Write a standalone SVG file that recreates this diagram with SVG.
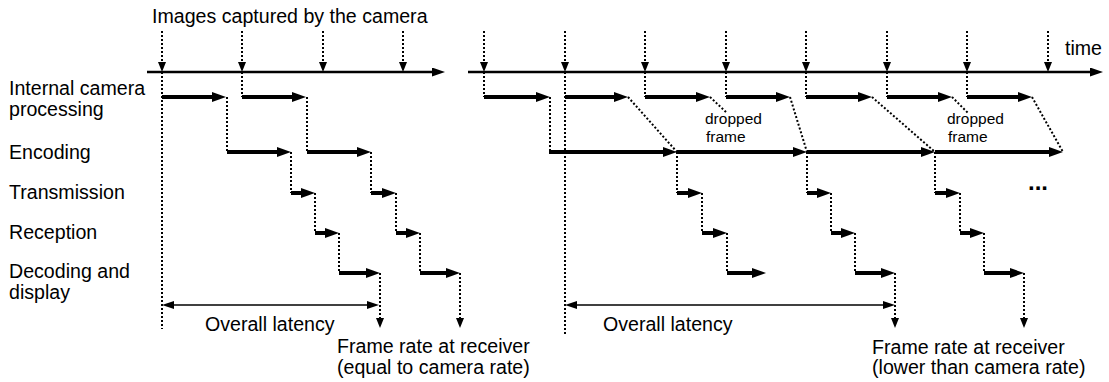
<svg xmlns="http://www.w3.org/2000/svg" width="1109" height="382" viewBox="0 0 1109 382">
<style>
  text { font-family: "Liberation Sans", Arial, sans-serif; fill: #000; }
  .lbl { font-size: 19.6px; }
  .sm { font-size: 15.5px; }
  .dots { font-size: 24px; font-weight: bold; }
  .thick { stroke: #000; stroke-width: 4; fill: none; marker-end: url(#ah); }
  .dot { stroke: #000; stroke-width: 2; stroke-dasharray: 2 2; fill: none; }
  .dota { stroke: #000; stroke-width: 2; stroke-dasharray: 2 2; fill: none; marker-end: url(#sh); }
  .axis { stroke: #000; stroke-width: 2.5; fill: none; marker-end: url(#ta); }
  .lat { stroke: #000; stroke-width: 1.6; fill: none; marker-start: url(#la); marker-end: url(#la); }
</style>
<defs>
  <marker id="ah" markerUnits="userSpaceOnUse" markerWidth="14" markerHeight="10" viewBox="0 0 14 10" refX="2" refY="5" orient="auto"><path d="M0,0 L14,5 L0,10 z" fill="#000"/></marker>
  <marker id="ta" markerUnits="userSpaceOnUse" markerWidth="13" markerHeight="9" viewBox="0 0 13 9" refX="2" refY="4.5" orient="auto"><path d="M0,0 L13,4.5 L0,9 z" fill="#000"/></marker>
  <marker id="sh" markerUnits="userSpaceOnUse" markerWidth="10" markerHeight="8" viewBox="0 0 10 8" refX="1" refY="4" orient="auto"><path d="M0,0 L10,4 L0,8 z" fill="#000"/></marker>
  <marker id="la" markerUnits="userSpaceOnUse" markerWidth="12" markerHeight="8" viewBox="0 0 12 8" refX="1" refY="4" orient="auto-start-reverse"><path d="M0,0 L12,4 L0,8 z" fill="#000"/></marker>
</defs>

<g id="labels">
  <text class="lbl" x="152" y="23">Images captured by the camera</text>
  <text class="lbl" x="1065" y="55">time</text>
  <text class="lbl" x="9" y="95">Internal camera</text>
  <text class="lbl" x="9" y="116">processing</text>
  <text class="lbl" x="9" y="159">Encoding</text>
  <text class="lbl" x="9" y="199">Transmission</text>
  <text class="lbl" x="9" y="239">Reception</text>
  <text class="lbl" x="9" y="278">Decoding and</text>
  <text class="lbl" x="9" y="299">display</text>
  <text class="lbl" x="205" y="331">Overall latency</text>
  <text class="lbl" x="337" y="353">Frame rate at receiver</text>
  <text class="lbl" x="337" y="374">(equal to camera rate)</text>
  <text class="lbl" x="603" y="331">Overall latency</text>
  <text class="lbl" x="872" y="354">Frame rate at receiver</text>
  <text class="lbl" x="872" y="374">(lower than camera rate)</text>
  <text class="sm" x="705" y="124">dropped</text>
  <text class="sm" x="706" y="142">frame</text>
  <text class="sm" x="947" y="124">dropped</text>
  <text class="sm" x="948" y="142">frame</text>
  <text class="dots" x="1028" y="190">...</text>
</g>

<g id="connectors">
  <g id="left-timeline">
    <line class="axis" x1="147" y1="72" x2="434" y2="72"/>
    <line class="dota" x1="162" y1="31" x2="162" y2="63"/>
    <line class="dota" x1="242" y1="31" x2="242" y2="63"/>
    <line class="dota" x1="323" y1="31" x2="323" y2="63"/>
    <line class="dota" x1="403" y1="31" x2="403" y2="63"/>
  </g>
  <g id="left-frame1">
    <line class="dot" x1="162" y1="72" x2="162" y2="329"/>
    <line class="thick" x1="162" y1="97" x2="214" y2="97"/>
    <line class="dot" x1="227" y1="97" x2="227" y2="152"/>
    <line class="thick" x1="227" y1="152" x2="279" y2="152"/>
    <line class="dot" x1="291" y1="152" x2="291" y2="193"/>
    <line class="thick" x1="291" y1="193" x2="303" y2="193"/>
    <line class="dot" x1="315" y1="193" x2="315" y2="233"/>
    <line class="thick" x1="315" y1="233" x2="327" y2="233"/>
    <line class="dot" x1="339" y1="233" x2="339" y2="273"/>
    <line class="thick" x1="339" y1="273" x2="368" y2="273"/>
    <line class="dota" x1="380" y1="273" x2="380" y2="319"/>
  </g>
  <g id="left-frame2">
    <line class="dot" x1="242" y1="72" x2="242" y2="97"/>
    <line class="thick" x1="242" y1="97" x2="294" y2="97"/>
    <line class="dot" x1="307" y1="97" x2="307" y2="152"/>
    <line class="thick" x1="307" y1="152" x2="359" y2="152"/>
    <line class="dot" x1="371" y1="152" x2="371" y2="193"/>
    <line class="thick" x1="371" y1="193" x2="384" y2="193"/>
    <line class="dot" x1="396" y1="193" x2="396" y2="233"/>
    <line class="thick" x1="396" y1="233" x2="408" y2="233"/>
    <line class="dot" x1="420" y1="233" x2="420" y2="273"/>
    <line class="thick" x1="420" y1="273" x2="448" y2="273"/>
    <line class="dota" x1="460" y1="273" x2="460" y2="319"/>
  </g>
  <line id="left-latency" class="lat" x1="173" y1="305" x2="368" y2="305"/>

  <g id="right-timeline">
    <line class="axis" x1="468" y1="72" x2="1092" y2="72"/>
    <line class="dota" x1="484" y1="31" x2="484" y2="63"/>
    <line class="dota" x1="565" y1="31" x2="565" y2="63"/>
    <line class="dota" x1="645" y1="31" x2="645" y2="63"/>
    <line class="dota" x1="726" y1="31" x2="726" y2="63"/>
    <line class="dota" x1="806" y1="31" x2="806" y2="63"/>
    <line class="dota" x1="887" y1="31" x2="887" y2="63"/>
    <line class="dota" x1="967" y1="31" x2="967" y2="63"/>
    <line class="dota" x1="1048" y1="31" x2="1048" y2="63"/>
  </g>
  <g id="right-frame1">
    <line class="dot" x1="484" y1="72" x2="484" y2="97"/>
    <line class="thick" x1="484" y1="97" x2="538" y2="97"/>
    <line class="dot" x1="550" y1="97" x2="550" y2="152"/>
    <line class="thick" x1="549" y1="152" x2="665" y2="152"/>
    <line class="dot" x1="677" y1="152" x2="677" y2="193"/>
    <line class="thick" x1="677" y1="193" x2="690" y2="193"/>
    <line class="dot" x1="702" y1="193" x2="702" y2="233"/>
    <line class="thick" x1="702" y1="233" x2="715" y2="233"/>
    <line class="dot" x1="727" y1="233" x2="727" y2="273"/>
    <line class="thick" x1="727" y1="273" x2="754" y2="273"/>
  </g>
  <g id="right-frame2">
    <line class="dot" x1="565" y1="72" x2="565" y2="336"/>
    <line class="thick" x1="565" y1="97" x2="616" y2="97"/>
    <line class="dot" x1="628" y1="97" x2="677" y2="152"/>
    <line class="thick" x1="677" y1="152" x2="795" y2="152"/>
    <line class="dot" x1="807" y1="152" x2="807" y2="193"/>
    <line class="thick" x1="807" y1="193" x2="819" y2="193"/>
    <line class="dot" x1="831" y1="193" x2="831" y2="233"/>
    <line class="thick" x1="831" y1="233" x2="843" y2="233"/>
    <line class="dot" x1="855" y1="233" x2="855" y2="273"/>
    <line class="thick" x1="855" y1="273" x2="883" y2="273"/>
    <line class="dota" x1="895" y1="273" x2="895" y2="319"/>
  </g>
  <g id="right-frame3">
    <line class="dot" x1="645" y1="72" x2="645" y2="97"/>
    <line class="thick" x1="645" y1="97" x2="698" y2="97"/>
    <line class="dot" x1="710" y1="97" x2="727" y2="113"/>
  </g>
  <g id="right-frame4">
    <line class="dot" x1="726" y1="72" x2="726" y2="97"/>
    <line class="thick" x1="726" y1="97" x2="778" y2="97"/>
    <line class="dot" x1="790" y1="97" x2="807" y2="152"/>
    <line class="thick" x1="807" y1="152" x2="923" y2="152"/>
    <line class="dot" x1="935" y1="152" x2="935" y2="193"/>
    <line class="thick" x1="935" y1="193" x2="948" y2="193"/>
    <line class="dot" x1="960" y1="193" x2="960" y2="233"/>
    <line class="thick" x1="960" y1="233" x2="972" y2="233"/>
    <line class="dot" x1="984" y1="233" x2="984" y2="273"/>
    <line class="thick" x1="984" y1="273" x2="1012" y2="273"/>
    <line class="dota" x1="1024" y1="273" x2="1024" y2="319"/>
  </g>
  <g id="right-frame5">
    <line class="dot" x1="806" y1="72" x2="806" y2="97"/>
    <line class="thick" x1="806" y1="97" x2="860" y2="97"/>
    <line class="dot" x1="872" y1="97" x2="935" y2="152"/>
    <line class="thick" x1="935" y1="152" x2="1051" y2="152"/>
  </g>
  <g id="right-frame6">
    <line class="dot" x1="887" y1="72" x2="887" y2="97"/>
    <line class="thick" x1="887" y1="97" x2="940" y2="97"/>
    <line class="dot" x1="952" y1="97" x2="968" y2="113"/>
  </g>
  <g id="right-frame7">
    <line class="dot" x1="967" y1="72" x2="967" y2="97"/>
    <line class="thick" x1="967" y1="97" x2="1020" y2="97"/>
    <line class="dot" x1="1032" y1="97" x2="1063" y2="152"/>
  </g>
  <line id="right-latency" class="lat" x1="576" y1="305" x2="884" y2="305"/>
</g>
</svg>
